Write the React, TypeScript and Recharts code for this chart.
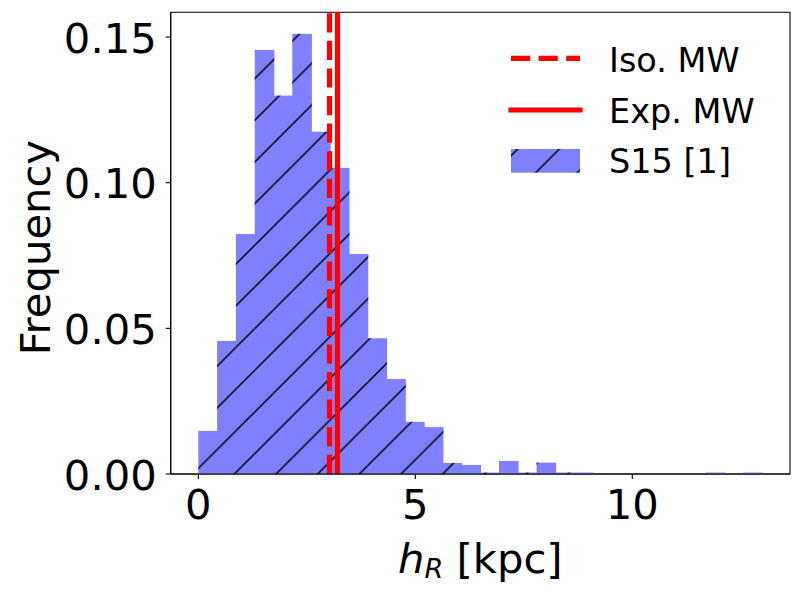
import React from 'react';
import { ComposedChart, Bar, XAxis, YAxis, ReferenceLine, ReferenceArea, Legend } from 'recharts';

// histogram of h_R, 30 bins of width ~0.433 kpc
const binCenters = [
  0.217, 0.65, 1.083, 1.516, 1.949, 2.382, 2.815, 3.248, 3.681, 4.114,
  4.547, 4.98, 5.413, 5.846, 6.279, 6.712, 7.145, 7.578, 8.011, 8.444,
  8.877, 9.31, 9.743, 10.176, 10.609, 11.042, 11.475, 11.908, 12.341, 12.774,
];
const frequency = [
  0.0148, 0.0457, 0.0824, 0.1456, 0.1299, 0.1511, 0.1175, 0.1051, 0.0755, 0.0466,
  0.0326, 0.0179, 0.0161, 0.0038, 0.0031, 0.0005, 0.0045, 0.0005, 0.0039, 0.0005,
  0.0005, 0, 0, 0, 0, 0, 0, 0.0005, 0, 0.0005,
];
const xTicks = [0, 5, 10];
const yTicks = [0, 0.05, 0.1, 0.15];
const isoMW = 3.023;
const expMW = 3.207;
const legendLabels = ['Iso. MW', 'Exp. MW', 'S15 [1]'];

const data = binCenters.map((x, i) => ({ x, freq: frequency[i] }));

const BLUE = '#8080ff';
const RED = '#ff0000';
const H = 41.67; // hatch spacing
const xDomain = [-0.636, 13.634];
const yDomain = [0, 0.1585];

const HatchedBar = (props: any) => {
  const { x, y, width, height } = props;
  if (!height || height <= 0) return null;
  // small overlap so neighbouring bars don't show a seam
  return (
    <g>
      <rect x={x} y={y} width={width + 0.6} height={height} fill={BLUE} />
      <rect x={x} y={y} width={width + 0.6} height={height} fill="url(#hatch)" />
    </g>
  );
};

const XTick = ({ x, y, payload }: any) => (
  <text x={x} y={y} dy={27.1} textAnchor="middle" fontSize={41.7} fill="#000">
    {String(payload.value)}
  </text>
);

const YTick = ({ x, y, payload }: any) => (
  <text x={x} y={y} dy={15.7} textAnchor="end" fontSize={41.7} fill="#000">
    {Number(payload.value).toFixed(2)}
  </text>
);

const XLabel = ({ viewBox }: any) => (
  <text x={viewBox.x + viewBox.width / 2} y={viewBox.y + 98.7} textAnchor="middle" fontSize={41.7} fill="#000">
    <tspan fontStyle="italic">h</tspan>
    <tspan fontStyle="italic" fontSize={27} dy={5}>R</tspan>
    <tspan dy={-5}> [kpc]</tspan>
  </text>
);

const YLabel = ({ viewBox }: any) => {
  const cy = viewBox.y + viewBox.height / 2 + 4.5;
  return (
    <text x={50} y={cy} transform={`rotate(-90 50 ${cy})`} textAnchor="middle" fontSize={41.7} fill="#000">
      Frequency
    </text>
  );
};

const LegendBox = () => (
  <svg width={802} height={594} style={{ position: 'absolute', left: 0, top: 0, pointerEvents: 'none' }}>
    <line x1={511} y1={58.3} x2={580} y2={58.3} stroke={RED} strokeWidth={5.2} strokeDasharray="19.2 8.4" />
    <text x={609} y={71.7} fontSize={33.5} fill="#000">{legendLabels[0]}</text>
    <line x1={511} y1={110} x2={580} y2={110} stroke={RED} strokeWidth={5.2} strokeLinecap="square" />
    <text x={609} y={122.7} fontSize={33.5} fill="#000">{legendLabels[1]}</text>
    <rect x={511} y={149} width={69} height={23.7} fill={BLUE} />
    <rect x={511} y={149} width={69} height={23.7} fill="url(#hatch)" />
    <text x={609} y={172.5} fontSize={33.5} fill="#000">{legendLabels[2]}</text>
  </svg>
);

const axisStyle = { stroke: '#000', strokeWidth: 1.1 };

export default function App() {
  return (
    <div style={{ position: 'absolute', left: 0, top: 0, width: 802, height: 594, fontFamily: 'DejaVu Sans', background: '#fff' }}>
      <ComposedChart width={802} height={594} data={data} margin={{ top: 12.3, right: 12, bottom: 0, left: 0 }} barCategoryGap={0} barGap={0}>
        <defs>
          <pattern id="hatch" patternUnits="userSpaceOnUse" width={H} height={H}>
            <path
              d={`M0,${H} L${H},0 M${-H / 4},${H / 4} L${H / 4},${-H / 4} M${(3 * H) / 4},${(5 * H) / 4} L${(5 * H) / 4},${(3 * H) / 4}`}
              stroke="#000"
              strokeWidth={1.5}
            />
          </pattern>
        </defs>
        <XAxis
          dataKey="x"
          type="number"
          domain={xDomain}
          allowDataOverflow
          ticks={xTicks}
          interval={0}
          height={120}
          tickSize={5}
          tickMargin={12.6}
          tick={<XTick />}
          tickLine={axisStyle}
          axisLine={axisStyle}
          label={<XLabel />}
        />
        <YAxis
          type="number"
          domain={yDomain}
          allowDataOverflow
          ticks={yTicks}
          interval={0}
          width={170.7}
          tickSize={5}
          tickMargin={9}
          tick={<YTick />}
          tickLine={axisStyle}
          axisLine={axisStyle}
          label={<YLabel />}
        />
        <Bar dataKey="freq" shape={<HatchedBar />} isAnimationActive={false} />
        <ReferenceLine x={isoMW} stroke={RED} strokeWidth={5.2} strokeDasharray="19.2 8.4" />
        <ReferenceLine x={expMW} stroke={RED} strokeWidth={5.2} />
        {/* plot frame */}
        <ReferenceArea x1={xDomain[0]} x2={xDomain[1]} y1={yDomain[0]} y2={yDomain[1]} fill="none" fillOpacity={0} stroke="#000" strokeWidth={1.1} strokeOpacity={1} />
        <Legend layout="horizontal" verticalAlign="middle" align="center" content={<LegendBox />} wrapperStyle={{ position: 'absolute', left: 0, top: 0, width: 802, height: 594, pointerEvents: 'none' }} />
      </ComposedChart>
    </div>
  );
}
